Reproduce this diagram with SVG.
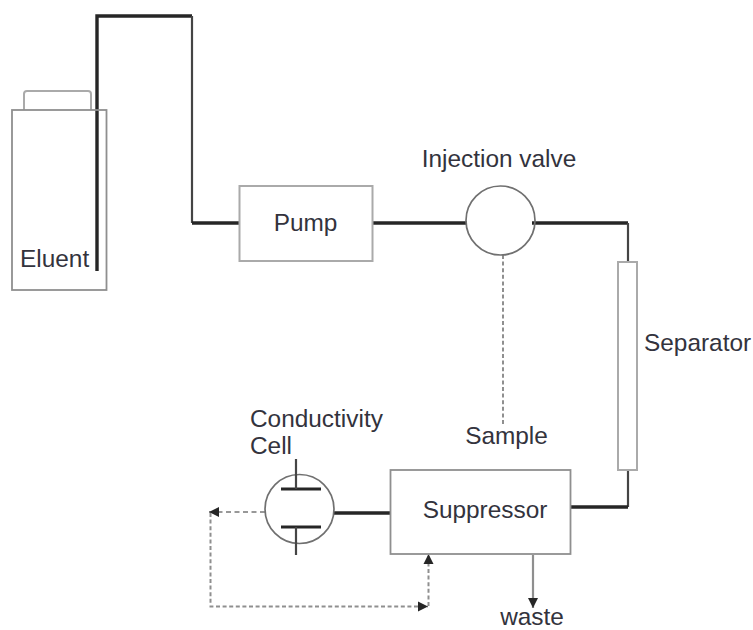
<svg xmlns="http://www.w3.org/2000/svg" width="753" height="630" viewBox="0 0 753 630">
<style>
text{font-family:"Liberation Sans",Arial,sans-serif;font-size:24.4px;fill:#33333d}
.box{fill:none;stroke:#8f8f8f;stroke-width:1.8}
.cap{fill:none;stroke:#aaa;stroke-width:2}
.circ{fill:none;stroke:#707070;stroke-width:1.7}
.thick{fill:none;stroke:#262626;stroke-width:3.4}
.med{fill:none;stroke:#454545;stroke-width:2.2}
.dash{fill:none;stroke:#8f8f8f;stroke-width:2;stroke-dasharray:4 2.6}
.dash2{fill:none;stroke:#777;stroke-width:1.6;stroke-dasharray:5 3.5}
.el{fill:none;stroke:#262626;stroke-width:3}
</style>
<defs>
<marker id="a" markerUnits="userSpaceOnUse" markerWidth="12" markerHeight="12" refX="10" refY="5.500" orient="auto"><path d="M0 0.500L10 5.500L0 10.500Z" fill="#262626"/></marker>
</defs>
<rect width="753" height="630" fill="#fff"/>
<g id="connectors">
<path class="thick" d="M97 271V16H192"/>
<path class="med" d="M192 16V223"/>
<path class="thick" d="M192 223H240"/>
<path class="thick" d="M372 223H467"/>
<path class="thick" d="M532 223H628"/>
<path class="med" d="M628 223V262"/>
<path class="med" d="M628 470V507"/>
<path class="thick" d="M570 507H628"/>
<path class="thick" d="M334 513H391"/>
<path class="dash" d="M503 255V424"/>
<path d="M533 555V608" fill="none" stroke="#8f8f8f" stroke-width="2.200" marker-end="url(#a)"/>
<path class="dash2" d="M265 512H209" marker-end="url(#a)"/>
<path class="dash" d="M210.500 513V606.500H428" marker-end="url(#a)"/>
<path class="dash" d="M428.500 606V554" marker-end="url(#a)"/>
</g>
<g id="eluent"><path class="cap" d="M24 110V94Q24 91 27 91H88Q91 91 91 94V110"/><rect class="box" x="12" y="110" width="94.500" height="180"/><text x="20" y="267">Eluent</text></g>
<g id="pump"><rect class="cap" x="239.500" y="186" width="133" height="75"/><text x="305.500" y="231" text-anchor="middle">Pump</text></g>
<g id="injection-valve"><circle class="circ" cx="500.500" cy="220.500" r="34.500"/><text x="499" y="167" text-anchor="middle">Injection valve</text></g>
<g id="separator"><rect class="cap" x="618" y="262" width="19" height="208"/><text x="644" y="351">Separator</text></g>
<g id="sample"><text x="506.500" y="444" text-anchor="middle">Sample</text></g>
<g id="suppressor"><rect class="box" x="390.500" y="470" width="180" height="84"/><text x="485" y="518" text-anchor="middle">Suppressor</text></g>
<g id="conductivity-cell"><circle class="circ" cx="299.500" cy="509" r="34.500"/><path class="el" d="M281 489H321M281 527H321"/><path class="med" d="M296 459V489M296 527V555"/><text x="250" y="427">Conductivity</text><text x="250" y="454">Cell</text></g>
<g id="waste"><text x="532" y="625" text-anchor="middle">waste</text></g>
</svg>
